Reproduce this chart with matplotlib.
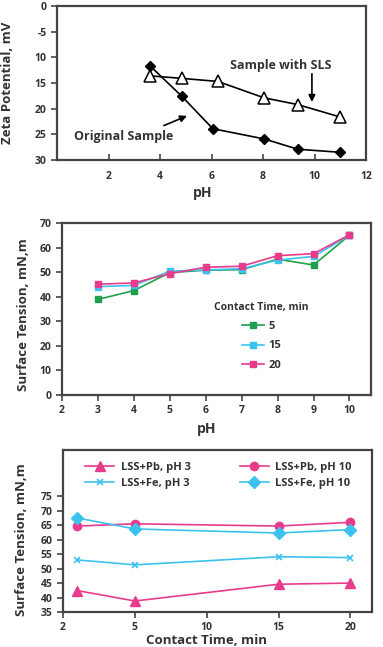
import matplotlib
matplotlib.use('Agg')
import matplotlib.pyplot as plt

plt.rcParams['font.family'] = ['Open Sans', 'DejaVu Sans']

# --- panel 1: zeta potential vs pH
ph_orig = [3.6, 4.85, 6.05, 8.05, 9.35, 11.0]
zeta_orig = [11.6, 17.6, 23.9, 25.9, 27.9, 28.5]
ph_sls = [3.6, 4.85, 6.25, 8.05, 9.35, 10.98]
zeta_sls = [13.6, 14.1, 14.7, 17.9, 19.2, 21.6]
zeta_ticks = [0, 5, 10, 15, 20, 25, 30]
zeta_ticklabels = ['0', '-5', '10', '15', '20', '25', '30']

# --- panel 2: surface tension vs pH for contact times
ph_st = [3, 4, 5, 6, 7, 8, 9, 10]
st_5 = [38.9, 42.5, 49.8, 50.8, 51.0, 55.3, 52.9, 65.0]
st_15 = [44.1, 44.6, 50.4, 50.9, 51.4, 54.9, 56.4, 65.0]
st_20 = [45.1, 45.6, 49.4, 52.0, 52.4, 56.7, 57.5, 65.2]

# --- panel 3: surface tension vs contact time
time_min = [1, 5, 15, 20]
time_ticks = [0, 5, 10, 15, 20]
time_ticklabels = ['2', '5', '10', '15', '20']
pb_ph3 = [42.4, 38.8, 44.6, 45.0]
fe_ph3 = [53.0, 51.3, 54.1, 53.8]
pb_ph10 = [64.7, 65.5, 64.7, 66.0]
fe_ph10 = [67.5, 63.7, 62.3, 63.5]

green = '#1fa04e'
cyan = '#3cc2ee'
magenta = '#e93b8c'
spine_c = '#444444'
text_c = '#333333'

fig = plt.figure(figsize=(3.83, 6.47), dpi=100)
W, H = 383.0, 647.0


def box(l, t, r, b):
    return [l / W, 1 - b / H, (r - l) / W, (b - t) / H]


def style(ax):
    for s in ax.spines.values():
        s.set_color(spine_c)
        s.set_linewidth(1.6)
    ax.tick_params(colors=spine_c, labelcolor=text_c, labelsize=7.5, width=1.2, length=4)
    for lab in ax.get_xticklabels() + ax.get_yticklabels():
        lab.set_fontweight('bold')


# panel 1
ax1 = fig.add_axes(box(57, 6, 366, 160))
ax1.plot(ph_orig, zeta_orig, color='black', lw=1.2, marker='D', ms=5.5, mfc='black')
ax1.plot(ph_sls, zeta_sls, color='black', lw=1.2, marker='^', ms=8, mfc='white', mew=1.1)
ax1.set_xlim(0, 12)
ax1.set_ylim(30, 0)
ax1.set_xticks([2, 4, 6, 8, 10, 12])
ax1.set_yticks(zeta_ticks)
ax1.set_yticklabels(zeta_ticklabels)
ax1.tick_params(axis='x', direction='in', pad=8)
style(ax1)
ax1.text(8.7, 11.5, 'Sample with SLS', ha='center', va='center', fontsize=9,
         fontweight='bold', color=text_c)
ax1.annotate('', xy=(9.9, 18.7), xytext=(9.9, 13.2),
             arrowprops=dict(arrowstyle='-|>', color='black', lw=1.2, shrinkA=0, shrinkB=0))
ax1.text(2.6, 25.5, 'Original Sample', ha='center', va='center', fontsize=9,
         fontweight='bold', color=text_c)
ax1.annotate('', xy=(5.05, 21.4), xytext=(4.15, 23.3),
             arrowprops=dict(arrowstyle='-|>', color='black', lw=1.2, shrinkA=0, shrinkB=0))
fig.text(203 / W, 1 - 193 / H, 'pH', ha='center', va='center', fontsize=10,
         fontweight='bold', color=text_c)
fig.text(8 / W, 1 - 83 / H, 'Zeta Potential, mV', rotation=90, ha='center', va='center',
         fontsize=9.5, fontweight='bold', color=text_c)

# panel 2
ax2 = fig.add_axes(box(62, 223, 371, 395))
ax2.plot(ph_st, st_5, color=green, lw=1.2, marker='s', ms=4.5, label='5')
ax2.plot(ph_st, st_15, color=cyan, lw=1.2, marker='s', ms=4.5, label='15')
ax2.plot(ph_st, st_20, color=magenta, lw=1.2, marker='s', ms=4.5, label='20')
ax2.set_xlim(2, 10.6)
ax2.set_ylim(0, 70)
ax2.set_xticks(range(2, 11))
ax2.set_yticks(range(0, 71, 10))
style(ax2)
leg2 = ax2.legend(title='Contact Time, min', frameon=False, fontsize=8,
                  title_fontproperties={'size': 7.5, 'weight': 'bold'},
                  handlelength=2, handletextpad=0.4, labelspacing=0.75,
                  loc='upper left', bbox_to_anchor=(0.46, 0.6))
for t in leg2.get_texts():
    t.set_fontweight('bold')
    t.set_color(text_c)
leg2.get_title().set_color(text_c)
fig.text(207 / W, 1 - 429 / H, 'pH', ha='center', va='center', fontsize=10,
         fontweight='bold', color=text_c)
fig.text(24 / W, 1 - 315 / H, 'Surface Tension, mN,m', rotation=90, ha='center',
         va='center', fontsize=9.5, fontweight='bold', color=text_c)

# panel 3
ax3 = fig.add_axes(box(63, 450, 372, 612))
ax3.plot(time_min, pb_ph3, color=magenta, lw=1.2, marker='^', ms=7, label='LSS+Pb, pH 3')
ax3.plot(time_min, fe_ph3, color=cyan, lw=1.2, marker='x', ms=5, mew=1.2, label='LSS+Fe, pH 3')
ax3.plot(time_min, pb_ph10, color=magenta, lw=1.2, marker='o', ms=6, label='LSS+Pb, pH 10')
ax3.plot(time_min, fe_ph10, color=cyan, lw=1.2, marker='D', ms=6, label='LSS+Fe, pH 10')
ax3.set_xlim(0, 21.5)
ax3.set_ylim(35, 91)
ax3.set_xticks(time_ticks)
ax3.set_xticklabels(time_ticklabels)
ax3.set_yticks(range(35, 76, 5))
style(ax3)
leg3 = ax3.legend(ncol=2, frameon=False, fontsize=8, loc='upper left',
                  bbox_to_anchor=(0.04, 0.99), handlelength=2.6, handletextpad=0.6,
                  columnspacing=4.4, labelspacing=0.5)
for t in leg3.get_texts():
    t.set_fontweight('bold')
    t.set_color(text_c)
fig.text(207 / W, 1 - 640 / H, 'Contact Time, min', ha='center', va='center',
         fontsize=9.5, fontweight='bold', color=text_c)
fig.text(22 / W, 1 - 540 / H, 'Surface Tension, mN,m', rotation=90, ha='center',
         va='center', fontsize=9.5, fontweight='bold', color=text_c)

fig.savefig('out.png', dpi=100)
